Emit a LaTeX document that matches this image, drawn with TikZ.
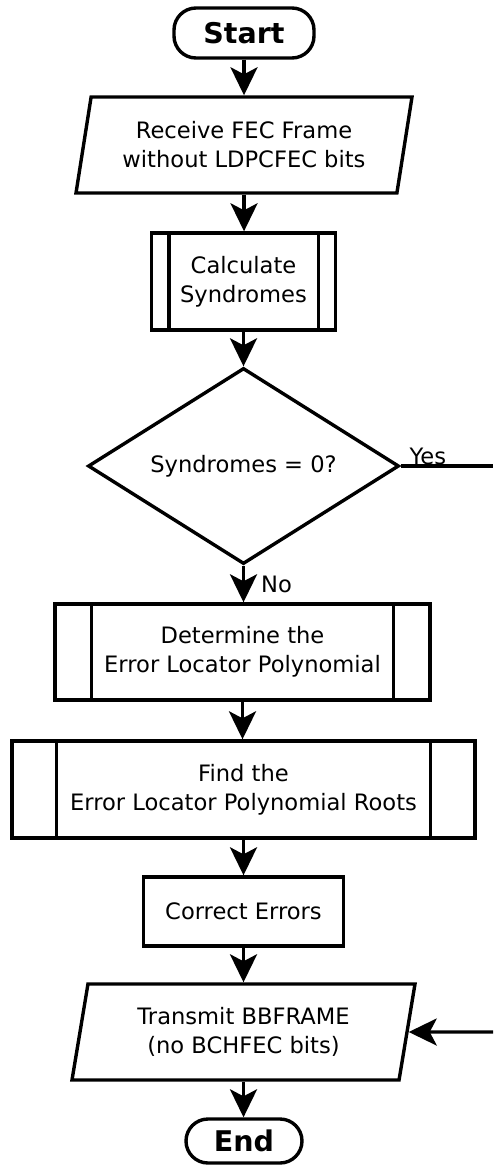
\documentclass[tikz,border=0pt]{standalone}
\usepackage{fontspec}
\setmainfont{DejaVu Sans}
\usetikzlibrary{shapes.geometric, arrows.meta, positioning, calc}

\begin{document}
\begin{tikzpicture}[x=1pt, y=-1pt, line width=3.4pt,
                    term/.style={draw, rounded corners=22pt, minimum height=50pt, inner sep=0pt, font=\fontsize{28.5}{34}\selectfont\bfseries},
                    io/.style={draw, trapezium, trapezium left angle=72, trapezium right angle=108, trapezium stretches body, minimum height=96pt, inner sep=0pt, align=center, font=\fontsize{22.6}{29}\selectfont},
                    proc/.style={draw, minimum height=97pt, inner sep=0pt, align=center, font=\fontsize{22.6}{29}\selectfont},
                    dec/.style={draw, diamond, aspect=1.59, minimum width=311pt, minimum height=196pt, inner sep=0pt, font=\fontsize{22.6}{29}\selectfont},
                    lbl/.style={inner sep=2pt, font=\fontsize{22.6}{29}\selectfont},
                    arr/.style={-{Stealth[length=28pt, width=27pt, inset=7pt]}}]
        \useasboundingbox (0,0) rectangle (493,1168);
        \node[term, minimum width=140pt] (start) at (244,33) {Start};
        \node[io, minimum width=336pt] (recv) at (244,145) {Receive FEC Frame\\without LDPCFEC bits};
        \node[proc, minimum width=184pt] (calc) at (243.5,281.5) {Calculate\\Syndromes};
        \node[dec] (test) at (243.5,466) {Syndromes = 0?};
        \node[proc, minimum width=375pt, minimum height=96pt] (det) at (242.5,652) {Determine the\\Error Locator Polynomial};
        \node[proc, minimum width=463pt] (find) at (243.5,789.5) {Find the\\Error Locator Polynomial Roots};
        \node[proc, minimum width=200pt, minimum height=69pt] (fix) at (243.5,911.5) {Correct Errors};
        \node[io, minimum width=343pt] (send) at (243.5,1032) {Transmit BBFRAME\\(no BCHFEC bits)};
        \node[term, minimum width=116pt, minimum height=44pt] (stop) at (244,1141) {End};
        \coordinate (yesout) at (493,466);
        \coordinate (yesin) at (493,1032);
        \foreach \n/\d in {calc/19, det/38, find/46} {
            \draw ([xshift=\d]\n.north west) -- ([xshift=\d]\n.south west);
            \draw ([xshift=-\d]\n.north east) -- ([xshift=-\d]\n.south east);
        }
        \foreach \s/\t in {start/recv, recv/calc, calc/test, det/find, find/fix, fix/send, send/stop} \draw[arr] (\s.south) -- (\s.south |- \t.north);
        \draw[arr] (test.south) -- node[lbl, right=14pt] (no) {No} (test.south |- det.north);
        \draw (test.east) -- node[lbl, pos=0.1, above right=-3pt and -4pt] (yes) {Yes} (yesout);
        \draw[arr] (yesin) -- (send.east);
    \end{tikzpicture}
\end{document}
